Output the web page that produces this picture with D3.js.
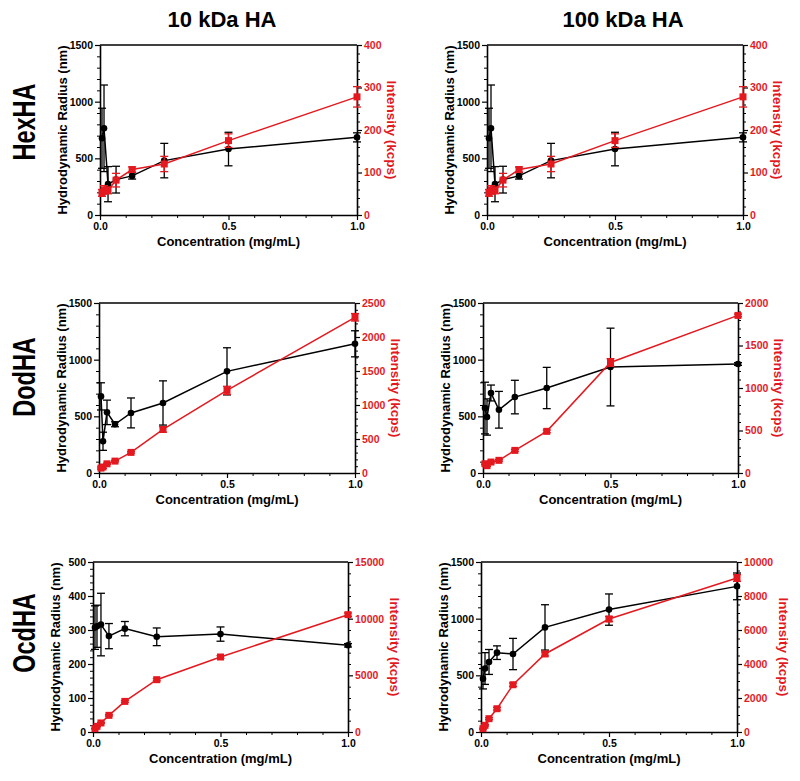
<!DOCTYPE html>
<html><head><meta charset="utf-8">
<script src="https://cdn.jsdelivr.net/npm/d3@7"></script>
<style>
body{margin:0;background:#fff}
svg{display:block}
text{font-family:"Liberation Sans",Arial,sans-serif;font-weight:bold}
</style>
</head><body><svg id="c" width="800" height="781"></svg>
<script>
// ---------- data ----------
const concentrations = [0.0078125, 0.015625, 0.03125, 0.0625, 0.125, 0.25, 0.5, 1.0];
const columnTitles = ["10 kDa HA", "100 kDa HA"];
const rowLabels = ["HexHA", "DodHA", "OcdHA"];
const xTickValues = [0, 0.5, 1.0];
const xLabel = "Concentration (mg/mL)";
const leftLabel = "Hydrodynamic  Radius (nm)";
const rightLabel = "Intensity (kcps)";

const hex10Radius = [677, 765, 272, 312, 345, 480, 582, 685];
const hex10RadiusErr = [265, 382, 155, 118, 28, 152, 148, 40];
const hex10Intensity = [52, 59, 58, 82, 107, 120, 175, 278];
const hex10IntensityErr = [8, 10, 8, 16, 6, 18, 16, 24];

const hex100Radius = [677, 765, 272, 312, 345, 480, 582, 685];
const hex100RadiusErr = [265, 382, 155, 118, 28, 152, 148, 40];
const hex100Intensity = [52, 59, 58, 82, 107, 120, 175, 278];
const hex100IntensityErr = [8, 10, 8, 16, 6, 18, 16, 24];

const dod10Radius = [676, 280, 535, 430, 530, 618, 897, 1140];
const dod10RadiusErr = [120, 80, 108, 22, 132, 195, 208, 115];
const dod10Intensity = [72, 88, 135, 175, 303, 640, 1215, 2290];
const dod10IntensityErr = [15, 20, 10, 10, 12, 40, 60, 55];

const dod100Radius = [573, 494, 706, 558, 670, 750, 935, 962];
const dod100RadiusErr = [228, 160, 70, 162, 148, 182, 343, 12];
const dod100Intensity = [109, 86, 129, 149, 266, 490, 1300, 1854];
const dod100IntensityErr = [10, 10, 10, 10, 12, 15, 45, 15];

const ocd10Radius = [307, 311, 316, 282, 304, 280, 288, 255];
const ocd10RadiusErr = [64, 62, 92, 37, 21, 26, 21, 5];
const ocd10Intensity = [294, 500, 800, 1470, 2700, 4617, 6618, 10353];
const ocd10IntensityErr = [30, 40, 50, 60, 80, 100, 120, 150];

const ocd100Radius = [470, 560, 618, 700, 688, 923, 1080, 1285];
const ocd100RadiusErr = [90, 140, 110, 60, 138, 200, 138, 118];
const ocd100Intensity = [196, 392, 784, 1370, 2780, 4590, 6647, 9059];
const ocd100IntensityErr = [30, 40, 60, 80, 100, 120, 150, 200];

// ---------- layout ----------
const RED = "#e3191f";
const svg = d3.select("#c");

const panels = [
  {left:100, top:45,  w:257, h:170, lMax:1500, lStep:500, lMinor:100, rMax:400,   rStep:100,  rMinor:20,
   r:hex10Radius, re:hex10RadiusErr, i:hex10Intensity, ie:hex10IntensityErr},
  {left:487, top:45,  w:256, h:170, lMax:1500, lStep:500, lMinor:100, rMax:400,   rStep:100,  rMinor:20,
   r:hex100Radius, re:hex100RadiusErr, i:hex100Intensity, ie:hex100IntensityErr},
  {left:99,  top:303, w:256, h:170, lMax:1500, lStep:500, lMinor:100, rMax:2500,  rStep:500,  rMinor:100,
   r:dod10Radius, re:dod10RadiusErr, i:dod10Intensity, ie:dod10IntensityErr},
  {left:483, top:303, w:255, h:170, lMax:1500, lStep:500, lMinor:100, rMax:2000,  rStep:500,  rMinor:100,
   r:dod100Radius, re:dod100RadiusErr, i:dod100Intensity, ie:dod100IntensityErr},
  {left:93,  top:562, w:255, h:170, lMax:500,  lStep:100, lMinor:20,  rMax:15000, rStep:5000, rMinor:1000,
   r:ocd10Radius, re:ocd10RadiusErr, i:ocd10Intensity, ie:ocd10IntensityErr},
  {left:481, top:562, w:256, h:170, lMax:1500, lStep:500, lMinor:100, rMax:10000, rStep:2000, rMinor:500,
   r:ocd100Radius, re:ocd100RadiusErr, i:ocd100Intensity, ie:ocd100IntensityErr}
];

// column titles
[222, 623].forEach((cx, k) => {
  svg.append("text").attr("x", cx).attr("y", 27).attr("text-anchor", "middle")
    .attr("font-size", 22).attr("fill", "#000").text(columnTitles[k]);
});
// row labels
[122, 377, 633].forEach((cy, k) => {
  svg.append("text").attr("transform", `translate(35,${cy}) rotate(-90) scale(1,1.3)`)
    .attr("text-anchor", "middle").attr("font-size", 23.5).attr("fill", "#000").text(rowLabels[k]);
});

function ticksRange(max, step) {
  const out = [];
  for (let v = 0; v <= max + 1e-9; v += step) out.push(+v.toFixed(6));
  return out;
}

function drawPanel(p) {
  const g = svg.append("g").attr("transform", `translate(${p.left},${p.top})`);
  const x = d3.scaleLinear().domain([0, 1]).range([0, p.w]);
  const yL = d3.scaleLinear().domain([0, p.lMax]).range([p.h, 0]);
  const yR = d3.scaleLinear().domain([0, p.rMax]).range([p.h, 0]);

  const lMaj = ticksRange(p.lMax, p.lStep);
  const lMin = ticksRange(p.lMax, p.lMinor).filter(v => !lMaj.some(m => Math.abs(m - v) < 1e-6));
  const rMaj = ticksRange(p.rMax, p.rStep);
  const rMin = ticksRange(p.rMax, p.rMinor).filter(v => !rMaj.some(m => Math.abs(m - v) < 1e-6));
  const xMin = ticksRange(1, 0.1).filter(v => !xTickValues.some(m => Math.abs(m - v) < 1e-6));

  const styleAxis = (sel, color) => {
    sel.select(".domain").attr("stroke", "#000").attr("stroke-width", 1.6);
    sel.selectAll(".tick line").attr("stroke", "#000").attr("stroke-width", 1.2);
    sel.selectAll(".tick text").attr("font-size", 10.5).attr("fill", color)
      .attr("font-family", '"Liberation Sans",Arial,sans-serif').attr("font-weight", "bold");
  };

  // minor ticks
  g.append("g").call(d3.axisLeft(yL).tickValues(lMin).tickSize(3).tickFormat(""))
    .call(s => { s.select(".domain").remove(); s.selectAll("line").attr("stroke", "#000").attr("stroke-width", 1); });
  g.append("g").attr("transform", `translate(${p.w},0)`)
    .call(d3.axisRight(yR).tickValues(rMin).tickSize(3).tickFormat(""))
    .call(s => { s.select(".domain").remove(); s.selectAll("line").attr("stroke", "#000").attr("stroke-width", 1); });
  g.append("g").attr("transform", `translate(0,${p.h})`)
    .call(d3.axisBottom(x).tickValues(xMin).tickSize(3).tickFormat(""))
    .call(s => { s.select(".domain").remove(); s.selectAll("line").attr("stroke", "#000").attr("stroke-width", 1); });

  // major axes
  g.append("g").call(d3.axisLeft(yL).tickValues(lMaj).tickSize(5).tickPadding(2).tickSizeOuter(0).tickFormat(d3.format("d")))
    .call(s => styleAxis(s, "#000"));
  g.append("g").attr("transform", `translate(${p.w},0)`)
    .call(d3.axisRight(yR).tickValues(rMaj).tickSize(5).tickPadding(2).tickSizeOuter(0).tickFormat(d3.format("d")))
    .call(s => styleAxis(s, RED));
  g.append("g").attr("transform", `translate(0,${p.h})`)
    .call(d3.axisBottom(x).tickValues(xTickValues).tickSize(5).tickPadding(3).tickSizeOuter(0).tickFormat(d3.format(".1f")))
    .call(s => styleAxis(s, "#000"));
  // top frame
  g.append("line").attr("x1", 0).attr("x2", p.w).attr("y1", 0).attr("y2", 0)
    .attr("stroke", "#000").attr("stroke-width", 1.6);

  // axis titles
  g.append("text").attr("x", p.w / 2).attr("y", p.h + 31).attr("text-anchor", "middle")
    .attr("font-size", 13).attr("fill", "#000").text(xLabel);
  g.append("text").attr("transform", `translate(-33,${p.h / 2}) rotate(-90)`)
    .attr("text-anchor", "middle").attr("font-size", 13).attr("fill", "#000").text(leftLabel);
  const rDigits = String(p.rMax).length;
  g.append("text").attr("transform", `translate(${p.w + 12 + rDigits * 6},${p.h / 2}) rotate(90)`)
    .attr("text-anchor", "middle").attr("font-size", 13.5).attr("fill", RED).text(rightLabel);

  // series
  function series(vals, errs, y, color, square) {
    const data = concentrations.map((c, k) => ({c, v: vals[k], e: errs[k]}));
    const eg = g.append("g").attr("stroke", color).attr("stroke-width", 1.3);
    data.forEach(d => {
      eg.append("line").attr("x1", x(d.c)).attr("x2", x(d.c)).attr("y1", y(d.v - d.e)).attr("y2", y(d.v + d.e));
      [d.v - d.e, d.v + d.e].forEach(v => eg.append("line")
        .attr("x1", x(d.c) - 4).attr("x2", x(d.c) + 4).attr("y1", y(v)).attr("y2", y(v)));
    });
    g.append("path").datum(data).attr("fill", "none").attr("stroke", color).attr("stroke-width", 1.5)
      .attr("d", d3.line().x(d => x(d.c)).y(d => y(d.v)));
    if (square) {
      g.append("g").selectAll("rect").data(data).join("rect")
        .attr("x", d => x(d.c) - 3.5).attr("y", d => y(d.v) - 3.5).attr("width", 7).attr("height", 7).attr("fill", color);
    } else {
      g.append("g").selectAll("circle").data(data).join("circle")
        .attr("cx", d => x(d.c)).attr("cy", d => y(d.v)).attr("r", 3.3).attr("fill", color);
    }
  }
  series(p.r, p.re, yL, "#000", false);
  series(p.i, p.ie, yR, RED, true);
}
panels.forEach(drawPanel);
</script>
</body></html>
